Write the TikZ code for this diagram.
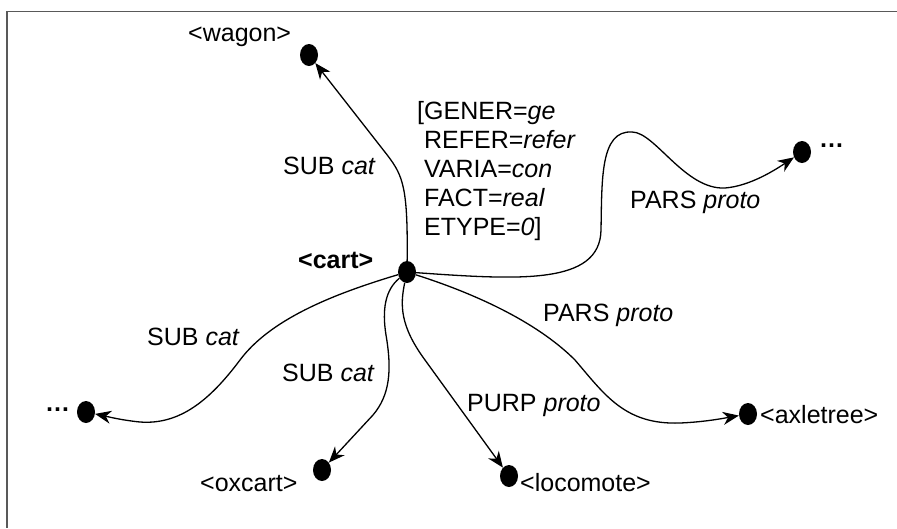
\documentclass[tikz,border=0pt]{standalone}
\usepackage{fontspec}
\setmainfont{Liberation Sans}
\usetikzlibrary{shapes.geometric,arrows.meta}
\begin{document}
\begin{tikzpicture}[x=1pt,y=-1pt,
  dot/.style={ellipse,fill=black,draw=none,inner sep=0pt,minimum width=18pt,minimum height=22pt},
  lbl/.style={anchor=base west,inner sep=0pt,font=\fontsize{25}{29}\selectfont},
  rel/.style={line width=1.3pt,-{Stealth[length=16pt,width=13pt,inset=5pt]}},
  frame/.style={line width=1.6pt,draw=black!65}]
\useasboundingbox (0,0) rectangle (897,528);
\draw[frame] (897,11.5) -- (7,11.5) -- (7,528);

% dots
\node[dot] (cart) at (407,272) {};
\node[dot] (wagon) at (309,55) {};
\node[dot] (urdots) at (802,152) {};
\node[dot] (axle) at (748,414) {};
\node[dot] (loco) at (509,476) {};
\node[dot] (oxcart) at (322,470) {};
\node[dot] (ldots) at (86,412) {};

% labels
\node[lbl] (twagon) at (188,41.5) {<wagon>};
\node[lbl] (tcart) at (298,268.5) {\bfseries <cart>};
\node[lbl] (turdots) at (819,147) {\bfseries\dots};
\node[lbl] (tldots) at (45,411) {\bfseries\dots};
\node[lbl] (taxle) at (760,423) {<axletree>};
\node[lbl] (tloco) at (520,491) {<locomote>};
\node[lbl] (toxcart) at (200,491.5) {<oxcart>};
\node[lbl] (l1) at (283,174) {SUB \textit{cat}};
\node[lbl] (l2) at (630,208) {PARS \textit{proto}};
\node[lbl] (l3) at (543,321.5) {PARS \textit{proto}};
\node[lbl] (l4) at (467,411.5) {PURP \textit{proto}};
\node[lbl] (l5) at (282,381.5) {SUB \textit{cat}};
\node[lbl] (l6) at (147,345) {SUB \textit{cat}};
\node[lbl,align=left,anchor=north west] (attr) at (417,101) {[GENER=\textit{ge}\\
\hphantom{[}REFER=\textit{refer}\\
\hphantom{[}VARIA=\textit{con}\\
\hphantom{[}FACT=\textit{real}\\
\hphantom{[}ETYPE=\textit{0}]};

% connectors
\coordinate (w1) at (388,156);
\draw[rel] (cart) .. controls (408,188) and (403,176) .. (w1) -- (wagon);

\coordinate (u1) at (601,230);
\coordinate (u2) at (632,132);
\coordinate (u3) at (725,188);
\draw[rel] (cart) .. controls (520,280) and (600,285) .. (u1)
  .. controls (602,180) and (600,130) .. (u2)
  .. controls (655,132) and (685,190) .. (u3)
  .. controls (750,186) and (775,170) .. (urdots);

\coordinate (a1) at (575,360);
\coordinate (a2) at (680,423);
\draw[rel] (cart) .. controls (470,292) and (535,320) .. (a1)
  .. controls (605,395) and (625,425) .. (a2)
  .. controls (705,422) and (725,418) .. (axle);

\coordinate (p1) at (425,360);
\draw[rel] (cart) .. controls (400,305) and (400,326) .. (p1) -- (loco);

\coordinate (o1) at (386,335);
\coordinate (o2) at (373,415);
\draw[rel] (cart) .. controls (385,290) and (382,310) .. (o1)
  .. controls (392,370) and (390,395) .. (o2) -- (oxcart);

\coordinate (s1) at (240,360);
\coordinate (s2) at (140,422);
\draw[rel] (cart) .. controls (330,295) and (270,320) .. (s1)
  .. controls (210,400) and (180,425) .. (s2)
  .. controls (120,420) and (105,416) .. (ldots);
\end{tikzpicture}
\end{document}
